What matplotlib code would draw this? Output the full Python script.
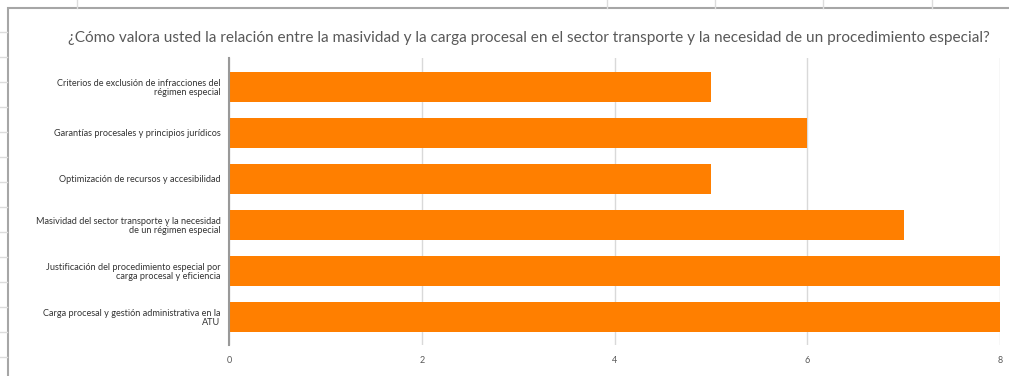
import matplotlib
matplotlib.use("Agg")
import matplotlib.pyplot as plt
from matplotlib.lines import Line2D
from matplotlib.patches import Rectangle

categories = [
    "Criterios de exclusión de infracciones del\nrégimen especial",
    "Garantías procesales y principios jurídicos",
    "Optimización de recursos y accesibilidad",
    "Masividad del sector transporte y la necesidad\nde un régimen especial",
    "Justificación del procedimiento especial por\ncarga procesal y eficiencia",
    "Carga procesal y gestión administrativa en la\nATU",
]
values = [5, 6, 5, 7, 8, 8]
xticks = [0, 2, 4, 6, 8]
title = "¿Cómo valora usted la relación entre la masividad y la carga procesal en el sector transporte y la necesidad de un procedimiento especial?"

W, H = 1009, 376
fig = plt.figure(figsize=(W / 100, H / 100), dpi=100)
fig.patch.set_facecolor("white")

# spreadsheet background grid (outside the chart box)
for x in [77, 607, 715, 823, 932]:
    fig.add_artist(Line2D([x / W, x / W], [1, 1 - 8 / H], color="#dcdcdc", lw=1))
for y in range(32, 376, 25):
    fig.add_artist(Line2D([0, 7 / W], [1 - y / H, 1 - y / H], color="#dcdcdc", lw=1))
# chart box border
fig.add_artist(Rectangle((8 / W, -0.01), 1.2, 1 - 8 / H + 0.01, fill=False,
                         edgecolor="#a6a6a6", lw=1.5))

ax = fig.add_axes([229 / W, 1 - 345 / H, (1000 - 229) / W, (345 - 58) / H])
ypos = list(range(len(categories)))
ax.barh(ypos, values, height=0.65, color="#FF7F00", zorder=3)
ax.set_ylim(5.61, -0.63)
ax.set_xlim(0, 8)
ax.set_xticks(xticks)
ax.set_xticklabels([str(t) for t in xticks], fontsize=6.5, color="#595959", family="Lato")
ax.set_yticks(ypos)
ax.set_yticklabels(categories, fontsize=6.6, color="#333333", family="Lato", linespacing=1.05)
ax.tick_params(axis="both", length=0, pad=6)
ax.tick_params(axis="x", pad=8)
ax.grid(axis="x", color="#d9d9d9", lw=1, zorder=0)
for s in ["top", "right", "bottom"]:
    ax.spines[s].set_visible(False)
ax.spines["left"].set_color("#999999")
ax.spines["left"].set_linewidth(1.5)
ax.spines["left"].set_zorder(4)

fig.text(529 / W, 1 - 38 / H, title, ha="center", va="center", fontsize=11.1,
         color="#595959", family="Lato")

fig.savefig("out.png", dpi=100)
